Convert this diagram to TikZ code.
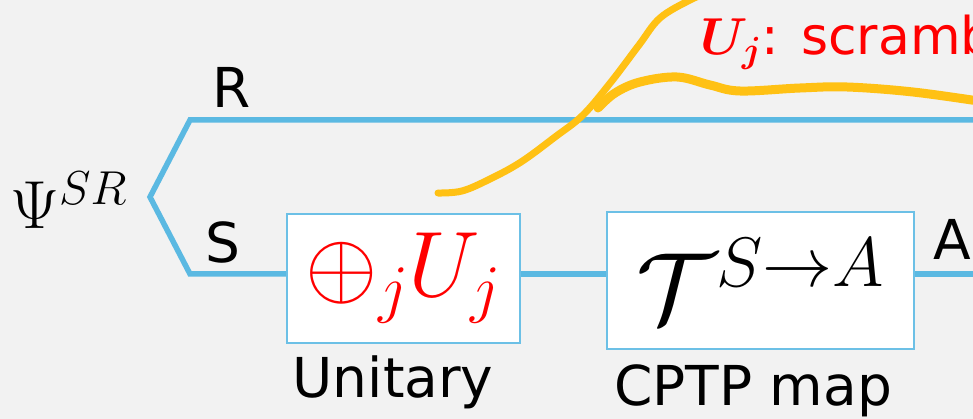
\RequirePackage{fix-cm}
\documentclass[tikz,border=0pt]{standalone}
\usepackage{amsmath,bm}
\usepackage{fontspec}
\newfontfamily\comic{DejaVu Sans}
\definecolor{wireblue}{HTML}{5BB9E2}
\definecolor{boxblue}{HTML}{6CC0E6}
\definecolor{penyellow}{HTML}{FFC114}
\definecolor{bggray}{HTML}{F2F2F2}
\begin{document}
\begin{tikzpicture}[x=1pt,y=-1pt,
  wire/.style={draw=wireblue, line width=5.5pt, line join=miter},
  gate/.style={draw=boxblue, line width=2.5pt, fill=white, inner sep=0pt},
  lbl/.style={inner sep=0pt, font=\comic\fontsize{55}{60}\selectfont},
  scribble/.style={draw=penyellow, line cap=round, line join=round}]
\path[use as bounding box] (0,0) rectangle (973,419);
\clip (0,0) rectangle (973,419);
\fill[bggray] (0,0) rectangle (973,419);

\node[inner sep=0pt, anchor=base west] (psi) at (10,229) {\fontsize{68}{68}\selectfont$\Psi^{SR}$};
\coordinate (v) at (150,197);
\coordinate (rc) at (190,120);
\coordinate (rend) at (985,120);
\coordinate (sc) at (190,274);
\coordinate (aend) at (985,274);

\draw[wire] (rend) -- (rc) -- (v) -- (sc) -- (403,274);
\node[gate, minimum width=233pt, minimum height=129pt] (ubox) at (403.5,278.5) {\fontsize{93}{100}\selectfont\color{red}$\oplus_j U_j$};
\node[gate, minimum width=307pt, minimum height=137pt] (tbox) at (760.5,280.5) {\fontsize{100}{110}\selectfont$\mathcal{T}^{S\to A}$};
\draw[wire] (ubox.east |- sc) -- (tbox.west |- sc);
\draw[wire] (tbox.east |- sc) -- (aend);

\node[lbl, anchor=base west] (rlab) at (212,108) {R};
\node[lbl, anchor=base west] (slab) at (205,262) {S};
\node[lbl, anchor=base west] (alab) at (933,260) {A};
\node[lbl, anchor=base] (ucap) at (393,397) {Unitary};
\node[lbl, anchor=base] (tcap) at (753,405) {CPTP map};

\node[inner sep=0pt, anchor=base west, text=red, font=\comic\fontsize{52}{56}\selectfont] (note) at (700,55) {$\boldsymbol{U_j}$: scrambling unitaries};

\draw[scribble, line width=7pt] plot[smooth, tension=0.6] coordinates {(438,193) (462,191) (490,179) (521,162) (555,137) (583,115) (611,82) (639,45) (660,18) (690,0) (705,-6)};
\draw[scribble, line width=9pt] plot[smooth, tension=0.6] coordinates {(598,108) (615,93) (640,82) (677,77) (710,85) (740,91) (800,88) (847,87) (913,92) (985,102)};
\end{tikzpicture}
\end{document}
